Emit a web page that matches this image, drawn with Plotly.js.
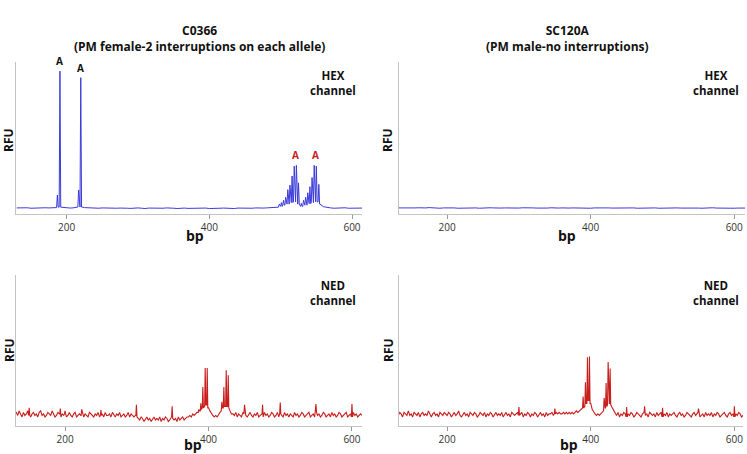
<!DOCTYPE html>
<html>
<head>
<meta charset="utf-8">
<script src="https://cdn.plot.ly/plotly-3.0.1.min.js"></script>
<style>
  html, body { margin: 0; padding: 0; background: #fff; }
  #chart { width: 747px; height: 454px; }
</style>
</head>
<body>
<div id="chart"></div>
<script>
/* Data: baselines sampled on a regular bp grid, peaks as (bp, height) */
var hexStep = 5, nedStep = 2, gridStart = 130;

// C0366 HEX channel
var hexLeftBase = [4.0,4.2,3.9,4.1,3.8,4.0,4.2,3.9,4.1,4.0,3.9,4.2,
  4.5,4.3,4.0,3.9,4.1,4.6,4.6,4.2,
  4.0,3.9,4.1,3.8,4.0,3.9,3.7,4.0,3.8,3.9,
  4.1,3.8,3.7,3.9,4.0,3.8,3.6,3.9,3.8,3.7,
  3.9,3.8,4.0,3.7,3.8,3.6,3.8,3.9,3.7,3.8,
  3.6,3.8,3.7,3.9,3.6,3.8,3.7,3.8,3.9,3.7,
  3.8,3.6,3.9,3.8,3.7,3.9,3.8,4.0,3.8,3.9,
  4.0,4.1,4.2,
  4.5,5.0,5.8,6.5,7.5,8.0,6.5,5.0,5.8,6.8,7.5,8.0,6.5,4.8,
  4.2,4.0,3.8,4.0,3.9,4.1,3.8,3.9,4.0,3.8,3.9];
var hexLeftPeakBp = [187, 190.6, 216.8, 219.8,
  498, 501, 504, 507, 510, 513, 516, 519, 522, 525,
  529, 532, 535, 538, 541, 544, 547, 550, 553.5];
var hexLeftPeakH = [12.5, 94, 15.8, 89.7,
  6.5, 7.5, 9, 11, 16, 19, 25, 31.5, 32, 20.5,
  7, 9, 11, 14, 18, 24, 32, 31.5, 19.5];

// SC120A HEX channel (flat)
var hexRightBase = [4.0,3.9,4.1,4.0,3.8,4.0,4.1,3.9,4.0,4.2,
  3.9,4.0,3.8,4.0,4.1,3.9,4.0,3.8,3.9,4.1,
  4.0,3.9,4.0,3.8,4.0,3.9,4.1,4.0,3.8,3.9,
  4.0,3.9,3.8,4.0,3.9,4.1,3.9,3.8,4.0,3.9,
  3.8,4.0,3.9,4.1,3.8,3.9,4.0,3.8,3.9,4.0,
  3.9,3.8,4.0,3.9,3.8,4.0,4.1,3.9,3.8,4.0,
  3.9,4.0,3.8,3.9,4.1,3.9,4.0,3.8,3.9,4.0,
  3.8,3.9,4.0,3.8,3.9,4.1,3.9,3.8,4.0,3.9,
  4.0,3.8,3.9,4.0,3.9,3.8,4.0,3.9,4.1,3.9,
  3.8,4.0,3.9,4.0,3.8,3.9,4.0,3.9];
var hexRightPeakBp = [];
var hexRightPeakH = [];

// C0366 NED channel
var nedLeftBase = [
  8,9,7,10,8,6,9,7,8,10, 7,6,8,9,7,8,6,9,10,7, 8,6,7,9,8,7,10,8,6,7, 9,8,6,8,7,
  8,6,7,9,7,6,8,9,6,7, 8,7,9,6,8,7,6,9,8,7, 6,8,7,9,6,7,8,6,9,7, 7,8,6,9,7,6,8,7,9,6, 7,8,6,7,9,6,8,7,6,7,
  6,5,4,6,5,3,5,6,4,5, 3,5,6,4,5,4,6,3,5,4, 6,5,3,4,6,5,4,5,3,6, 4,5,6,4,5,6,
  6,7,6,8,7,8,9,9,10,11, 12,13,14,14,12,10,8,7,6,7, 6,8,9,10,12,13,13,13,12,10, 8,
  8,7,9,6,8,7,6,9,8,7, 6,8,9,7,6,8,7,9,6,7, 8,6,9,7,8,6,7,9,8,6, 7,9,6,8,7,6,9,7,8,6,
  8,7,6,9,7,8,6,7,9,8, 6,7,8,9,6,7,8,6,9,7, 8,6,7,9,8,6,7,8,6,9, 7,8,6,7,9,8,6,7,8,9,
  6,7,8,6,9,7,8,6,7,8, 7];
var nedLeftPeakBp = [150, 193.4, 200, 223.2, 250, 299.5, 349.3,
  386.5, 389.3, 392.1, 395.4, 398.2,
  418.6, 421.4, 424.7, 427.5,
  450.2, 475.4, 500, 549.8, 600];
var nedLeftPeakH = [12, 11.5, 10, 11, 10.5, 14, 13,
  11, 15, 25.8, 38.4, 38.4,
  16, 25.8, 36.9, 33.6,
  14, 14, 15.5, 14.5, 14.5];

// SC120A NED channel
var nedRightBase = [
  8,7,9,8,6,9,8,7,10,7, 8,6,9,8,7,9,6,8,9,7, 8,7,10,8,6,8,9,7,8,6, 9,8,7,9,8,
  7,9,8,6,8,9,7,8,10,7, 6,8,9,7,8,6,9,8,7,9, 8,6,7,9,8,7,9,6,8,7, 9,8,6,8,9,7,8,7,9,6, 8,9,7,8,6,9,8,7,8,9,
  7,8,9,6,8,7,9,8,6,8, 7,9,8,6,8,9,7,8,6,9, 7,8,8,9,7,8,9,8,9,8, 8,9,8,9,8,9,
  8,9,8,9,10,9,10,11,12,12, 13,15,17,17,15,11,9,8,7,8, 7,8,9,10,12,13,14,15,14,12, 10,
  8,7,9,6,8,7,9,8,6,8, 7,9,8,6,7,9,8,7,6,8, 9,7,8,6,9,8,7,8,6,9, 7,8,9,6,8,7,9,6,8,7,
  8,9,7,6,8,9,7,8,6,7, 9,8,7,6,8,9,7,8,9,6, 7,8,6,9,7,8,7,9,6,8, 7,9,8,6,7,8,9,7,6,8,
  9,7,8,6,8,7,9,8,6,7, 8];
var nedRightPeakBp = [300, 350,
  389.4, 392.6, 395.4, 398.2,
  418.6, 421.4, 424.2, 427,
  450, 475, 500, 550, 600];
var nedRightPeakH = [12.5, 11.5,
  19.5, 29, 45.5, 46,
  18.6, 28.5, 42.4, 38,
  12.5, 13, 12, 11.5, 13];

var tickVals = [200, 400, 600];

/* merge a baseline grid with narrow peaks */
function buildTrace(start, step, base, peakBp, peakH, hw) {
  var pts = [];
  var near = function (x) {
    var i = Math.round((x - start) / step);
    return base[Math.max(0, Math.min(base.length - 1, i))];
  };
  base.forEach(function (v, i) {
    var x = start + step * i;
    var hit = peakBp.some(function (p) { return Math.abs(p - x) <= hw; });
    if (!hit) pts.push([x, v]);
  });
  peakBp.forEach(function (p, k) {
    pts.push([p - hw, near(p - hw)], [p, peakH[k]], [p + hw, near(p + hw)]);
  });
  pts.sort(function (a, b) { return a[0] - b[0]; });
  return { x: pts.map(function (p) { return p[0]; }), y: pts.map(function (p) { return p[1]; }) };
}

var blue = 'rgb(58, 58, 218)';
var red = 'rgb(200, 30, 28)';

function mkTrace(d, color, w, xa, ya) {
  return { x: d.x, y: d.y, type: 'scatter', mode: 'lines', xaxis: xa, yaxis: ya,
    line: { color: color, width: w }, hoverinfo: 'skip' };
}

var data = [
  mkTrace(buildTrace(gridStart, hexStep, hexLeftBase, hexLeftPeakBp, hexLeftPeakH, 1.1), blue, 1, 'x', 'y'),
  mkTrace(buildTrace(gridStart, hexStep, hexRightBase, hexRightPeakBp, hexRightPeakH, 1.1), blue, 1, 'x2', 'y2'),
  mkTrace(buildTrace(gridStart, nedStep, nedLeftBase, nedLeftPeakBp, nedLeftPeakH, 0.8), red, 1.1, 'x3', 'y3'),
  mkTrace(buildTrace(gridStart, nedStep, nedRightBase, nedRightPeakBp, nedRightPeakH, 0.8), red, 1.1, 'x4', 'y4')
];

/* Layout */
var W = 747, H = 454;
function px(v) { return v / W; }
function py(v) { return 1 - v / H; }

function xAx(l, r, range, anchor) {
  return { domain: [px(l), px(r)], range: range, anchor: anchor,
    showline: true, linecolor: '#c4c4c4', linewidth: 1, showgrid: false, zeroline: false,
    ticks: 'outside', ticklen: 4, tickcolor: '#9a9a9a', tickvals: tickVals,
    tickfont: { family: 'Open Sans, sans-serif', size: 10, color: '#333' } };
}
function yAx(t, b, anchor) {
  return { domain: [py(b), py(t)], range: [0, 100], anchor: anchor,
    showline: true, linecolor: '#c4c4c4', linewidth: 1, showgrid: false, zeroline: false,
    showticklabels: false, ticks: '' };
}

function txt(x, y, s, size, color) {
  return { xref: 'paper', yref: 'paper', x: px(x), y: py(y), text: s, showarrow: false,
    xanchor: 'center', yanchor: 'middle',
    font: { family: 'Open Sans, sans-serif', size: size, color: color || '#111', weight: 'bold' } };
}
function peakLabel(xa, ya, x, y, color) {
  return { xref: xa, yref: ya, x: x, y: y, text: '<b>A</b>', showarrow: false,
    yanchor: 'bottom', yshift: 1,
    font: { family: 'Open Sans, sans-serif', size: 10, color: color } };
}

var annotations = [
  txt(199, 38.5, 'C0366<br>(PM female-2 interruptions on each allele)', 12),
  txt(567, 38.5, 'SC120A<br>(PM male-no interruptions)', 12),
  txt(333, 82.5, 'HEX<br>channel', 11.5),
  txt(716, 82.5, 'HEX<br>channel', 11.5),
  txt(333, 293, 'NED<br>channel', 11.5),
  txt(716, 293, 'NED<br>channel', 11.5),
  txt(195, 235, 'bp', 14), txt(567, 235, 'bp', 14),
  txt(193, 444, 'bp', 14), txt(569, 444, 'bp', 14),
  peakLabel('x', 'y', 190.6, 94, '#111'), peakLabel('x', 'y', 219.8, 89.7, '#111'),
  peakLabel('x', 'y', 520.5, 32, 'rgb(200, 30, 28)'), peakLabel('x', 'y', 548.5, 32, 'rgb(200, 30, 28)')
];
[[9, 140], [388, 140], [9, 350], [388, 350]].forEach(function (p) {
  var a = txt(p[0], p[1], 'RFU', 12);
  a.textangle = -90;
  annotations.push(a);
});

var layout = {
  width: W, height: H,
  margin: { l: 0, r: 0, t: 0, b: 0 },
  paper_bgcolor: '#fff', plot_bgcolor: '#fff',
  showlegend: false,
  xaxis: xAx(16, 362, [129, 614], 'y'),
  yaxis: yAx(62, 214, 'x'),
  xaxis2: xAx(399, 745, [133, 615], 'y2'),
  yaxis2: yAx(62, 214, 'x2'),
  xaxis3: xAx(16, 362, [131.6, 614], 'y3'),
  yaxis3: yAx(275, 426, 'x3'),
  xaxis4: xAx(399, 743, [133, 612], 'y4'),
  yaxis4: yAx(275, 426, 'x4'),
  annotations: annotations
};

Plotly.newPlot('chart', data, layout, { staticPlot: true });
</script>
</body>
</html>
